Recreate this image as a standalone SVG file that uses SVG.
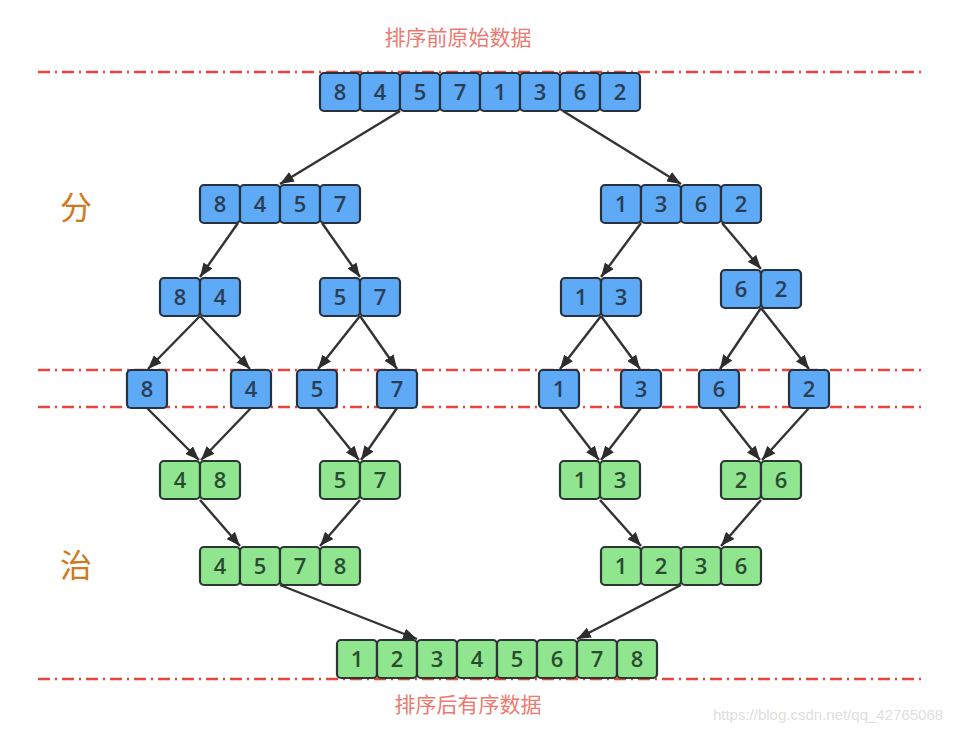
<svg xmlns="http://www.w3.org/2000/svg" width="961" height="733" viewBox="0 0 961 733">
<defs>
<style>
.b rect{fill:#5eaaf6;stroke:#27323f;stroke-width:2.2}
.g rect{fill:#8fe68f;stroke:#2b3733;stroke-width:2.2}
text.n{font-family:"Open Sans","DejaVu Sans",sans-serif;font-size:22px;font-weight:600;fill:#2a3d52;text-anchor:middle}
.g text.n{fill:#2c4a32}
.dash{stroke:#e8453c;stroke-width:2.5;stroke-dasharray:12 5 2 5;fill:none}
.c line{stroke:#333;stroke-width:2.4}
.lbl{font-family:"Noto Sans CJK SC",sans-serif;font-size:21px;fill:#ec7a70;text-anchor:middle}
.big{font-family:"Noto Sans CJK SC",sans-serif;font-size:32px;fill:#cf7a1c;text-anchor:middle}
</style>
<marker id="ah" viewBox="0 0 14 11" refX="14" refY="5.5" markerWidth="14" markerHeight="11" markerUnits="userSpaceOnUse" orient="auto">
<path d="M0,0 L14,5.5 L0,11 z" fill="#2d2d2d"/>
</marker>
</defs>
<rect width="961" height="733" fill="#ffffff"/>
<text class="lbl" x="458" y="45">排序前原始数据</text>
<text class="lbl" x="468" y="712">排序后有序数据</text>
<text class="big" x="76" y="219">分</text>
<text class="big" x="76" y="577">治</text>
<g id="guides">
<line class="dash" x1="38" y1="72" x2="922" y2="72"/>
<line class="dash" x1="38" y1="370" x2="922" y2="370"/>
<line class="dash" x1="38" y1="407" x2="922" y2="407"/>
<line class="dash" x1="38" y1="679" x2="922" y2="679"/>
</g>
<g id="connectors" class="c">
<line x1="400" y1="111" x2="280" y2="184" marker-end="url(#ah)"/>
<line x1="563" y1="111" x2="681" y2="184" marker-end="url(#ah)"/>
<line x1="238" y1="223" x2="200" y2="277" marker-end="url(#ah)"/>
<line x1="322" y1="223" x2="360" y2="277" marker-end="url(#ah)"/>
<line x1="641" y1="223" x2="601" y2="277" marker-end="url(#ah)"/>
<line x1="722" y1="223" x2="761" y2="269" marker-end="url(#ah)"/>
<line x1="200" y1="316" x2="148" y2="369" marker-end="url(#ah)"/>
<line x1="200" y1="316" x2="250" y2="369" marker-end="url(#ah)"/>
<line x1="360" y1="316" x2="318" y2="369" marker-end="url(#ah)"/>
<line x1="360" y1="316" x2="397" y2="369" marker-end="url(#ah)"/>
<line x1="601" y1="316" x2="560" y2="369" marker-end="url(#ah)"/>
<line x1="601" y1="316" x2="640" y2="369" marker-end="url(#ah)"/>
<line x1="761" y1="308" x2="720" y2="369" marker-end="url(#ah)"/>
<line x1="761" y1="308" x2="809" y2="369" marker-end="url(#ah)"/>
<line x1="147" y1="408" x2="199" y2="460" marker-end="url(#ah)"/>
<line x1="251" y1="408" x2="201" y2="460" marker-end="url(#ah)"/>
<line x1="317" y1="408" x2="359" y2="460" marker-end="url(#ah)"/>
<line x1="397" y1="408" x2="361" y2="460" marker-end="url(#ah)"/>
<line x1="559" y1="408" x2="599" y2="460" marker-end="url(#ah)"/>
<line x1="641" y1="408" x2="601" y2="460" marker-end="url(#ah)"/>
<line x1="719" y1="408" x2="760" y2="460" marker-end="url(#ah)"/>
<line x1="809" y1="408" x2="762" y2="460" marker-end="url(#ah)"/>
<line x1="200" y1="500" x2="240" y2="546" marker-end="url(#ah)"/>
<line x1="360" y1="500" x2="320" y2="546" marker-end="url(#ah)"/>
<line x1="600" y1="500" x2="641" y2="546" marker-end="url(#ah)"/>
<line x1="761" y1="500" x2="721" y2="546" marker-end="url(#ah)"/>
<line x1="280" y1="585" x2="417" y2="639" marker-end="url(#ah)"/>
<line x1="681" y1="585" x2="577" y2="639" marker-end="url(#ah)"/>
</g>
<g id="n-top" class="b">
<rect x="320" y="73" width="40" height="38" rx="4"/><rect x="360" y="73" width="40" height="38" rx="4"/><rect x="400" y="73" width="40" height="38" rx="4"/><rect x="440" y="73" width="40" height="38" rx="4"/><rect x="480" y="73" width="40" height="38" rx="4"/><rect x="520" y="73" width="40" height="38" rx="4"/><rect x="560" y="73" width="40" height="38" rx="4"/><rect x="600" y="73" width="40" height="38" rx="4"/>
<text class="n" x="340" y="100">8</text><text class="n" x="380" y="100">4</text><text class="n" x="420" y="100">5</text><text class="n" x="460" y="100">7</text><text class="n" x="500" y="100">1</text><text class="n" x="540" y="100">3</text><text class="n" x="580" y="100">6</text><text class="n" x="620" y="100">2</text>
</g>
<g id="n-8457" class="b">
<rect x="200" y="185" width="40" height="38" rx="4"/><rect x="240" y="185" width="40" height="38" rx="4"/><rect x="280" y="185" width="40" height="38" rx="4"/><rect x="320" y="185" width="40" height="38" rx="4"/>
<text class="n" x="220" y="212">8</text><text class="n" x="260" y="212">4</text><text class="n" x="300" y="212">5</text><text class="n" x="340" y="212">7</text>
</g>
<g id="n-1362" class="b">
<rect x="601" y="185" width="40" height="38" rx="4"/><rect x="641" y="185" width="40" height="38" rx="4"/><rect x="681" y="185" width="40" height="38" rx="4"/><rect x="721" y="185" width="40" height="38" rx="4"/>
<text class="n" x="621" y="212">1</text><text class="n" x="661" y="212">3</text><text class="n" x="701" y="212">6</text><text class="n" x="741" y="212">2</text>
</g>
<g id="n-84" class="b">
<rect x="160" y="278" width="40" height="38" rx="4"/><rect x="200" y="278" width="40" height="38" rx="4"/>
<text class="n" x="180" y="305">8</text><text class="n" x="220" y="305">4</text>
</g>
<g id="n-57" class="b">
<rect x="320" y="278" width="40" height="38" rx="4"/><rect x="360" y="278" width="40" height="38" rx="4"/>
<text class="n" x="340" y="305">5</text><text class="n" x="380" y="305">7</text>
</g>
<g id="n-13" class="b">
<rect x="561" y="278" width="40" height="38" rx="4"/><rect x="601" y="278" width="40" height="38" rx="4"/>
<text class="n" x="581" y="305">1</text><text class="n" x="621" y="305">3</text>
</g>
<g id="n-62" class="b">
<rect x="721" y="270" width="40" height="38" rx="4"/><rect x="761" y="270" width="40" height="38" rx="4"/>
<text class="n" x="741" y="297">6</text><text class="n" x="781" y="297">2</text>
</g>
<g id="n-s8" class="b"><rect x="127" y="370" width="40" height="38" rx="4"/><text class="n" x="147" y="397">8</text></g>
<g id="n-s4" class="b"><rect x="231" y="370" width="40" height="38" rx="4"/><text class="n" x="251" y="397">4</text></g>
<g id="n-s5" class="b"><rect x="297" y="370" width="40" height="38" rx="4"/><text class="n" x="317" y="397">5</text></g>
<g id="n-s7" class="b"><rect x="377" y="370" width="40" height="38" rx="4"/><text class="n" x="397" y="397">7</text></g>
<g id="n-s1" class="b"><rect x="539" y="370" width="40" height="38" rx="4"/><text class="n" x="559" y="397">1</text></g>
<g id="n-s3" class="b"><rect x="621" y="370" width="40" height="38" rx="4"/><text class="n" x="641" y="397">3</text></g>
<g id="n-s6" class="b"><rect x="699" y="370" width="40" height="38" rx="4"/><text class="n" x="719" y="397">6</text></g>
<g id="n-s2" class="b"><rect x="789" y="370" width="40" height="38" rx="4"/><text class="n" x="809" y="397">2</text></g>
<g id="m-48" class="g">
<rect x="160" y="461" width="40" height="38" rx="4"/><rect x="200" y="461" width="40" height="38" rx="4"/>
<text class="n" x="180" y="488">4</text><text class="n" x="220" y="488">8</text>
</g>
<g id="m-57" class="g">
<rect x="320" y="461" width="40" height="38" rx="4"/><rect x="360" y="461" width="40" height="38" rx="4"/>
<text class="n" x="340" y="488">5</text><text class="n" x="380" y="488">7</text>
</g>
<g id="m-13" class="g">
<rect x="560" y="461" width="40" height="38" rx="4"/><rect x="600" y="461" width="40" height="38" rx="4"/>
<text class="n" x="580" y="488">1</text><text class="n" x="620" y="488">3</text>
</g>
<g id="m-26" class="g">
<rect x="721" y="461" width="40" height="38" rx="4"/><rect x="761" y="461" width="40" height="38" rx="4"/>
<text class="n" x="741" y="488">2</text><text class="n" x="781" y="488">6</text>
</g>
<g id="m-4578" class="g">
<rect x="200" y="547" width="40" height="38" rx="4"/><rect x="240" y="547" width="40" height="38" rx="4"/><rect x="280" y="547" width="40" height="38" rx="4"/><rect x="320" y="547" width="40" height="38" rx="4"/>
<text class="n" x="220" y="574">4</text><text class="n" x="260" y="574">5</text><text class="n" x="300" y="574">7</text><text class="n" x="340" y="574">8</text>
</g>
<g id="m-1236" class="g">
<rect x="601" y="547" width="40" height="38" rx="4"/><rect x="641" y="547" width="40" height="38" rx="4"/><rect x="681" y="547" width="40" height="38" rx="4"/><rect x="721" y="547" width="40" height="38" rx="4"/>
<text class="n" x="621" y="574">1</text><text class="n" x="661" y="574">2</text><text class="n" x="701" y="574">3</text><text class="n" x="741" y="574">6</text>
</g>
<g id="m-final" class="g">
<rect x="337" y="640" width="40" height="38" rx="4"/><rect x="377" y="640" width="40" height="38" rx="4"/><rect x="417" y="640" width="40" height="38" rx="4"/><rect x="457" y="640" width="40" height="38" rx="4"/><rect x="497" y="640" width="40" height="38" rx="4"/><rect x="537" y="640" width="40" height="38" rx="4"/><rect x="577" y="640" width="40" height="38" rx="4"/><rect x="617" y="640" width="40" height="38" rx="4"/>
<text class="n" x="357" y="667">1</text><text class="n" x="397" y="667">2</text><text class="n" x="437" y="667">3</text><text class="n" x="477" y="667">4</text><text class="n" x="517" y="667">5</text><text class="n" x="557" y="667">6</text><text class="n" x="597" y="667">7</text><text class="n" x="637" y="667">8</text>
</g>
<text x="828" y="720" font-family="Liberation Sans,Arial,sans-serif" font-size="15" fill="#dedede" text-anchor="middle">https://blog.csdn.net/qq_42765068</text>
</svg>
